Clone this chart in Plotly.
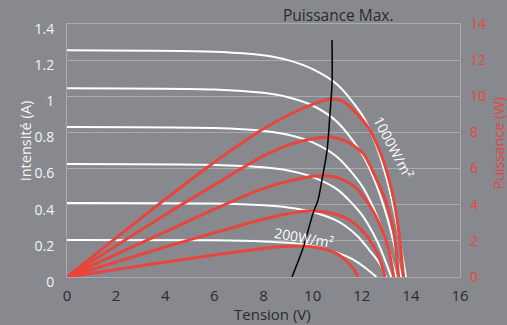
import plotly.graph_objects as go

# ---- data ----
x_ticks = [0, 2, 4, 6, 8, 10, 12, 14, 16]
i_ticks = [0, 0.2, 0.4, 0.6, 0.8, 1.0, 1.2, 1.4]
i_tick_text = ["0", "0.2", "0.4", "0.6", "0.8", "1", "1.2", "1.4"]
p_ticks = [0, 2, 4, 6, 8, 10, 12, 14]

# I-V curves (white), Tension (V) / Intensité (A)
v_w1 = [0, 6, 8, 9, 10, 11, 12, 12.5, 13, 13.4, 13.8]
i_w1 = [1.255, 1.247, 1.227, 1.200, 1.150, 1.065, 0.90, 0.76, 0.55, 0.31, 0]
v_w2 = [0, 6, 8, 9, 10, 11, 12, 12.5, 13, 13.3, 13.6]
i_w2 = [1.045, 1.038, 1.019, 0.995, 0.949, 0.858, 0.683, 0.541, 0.345, 0.188, 0]
v_w3 = [0, 6, 8, 9, 10, 11, 12, 12.5, 13, 13.4]
i_w3 = [0.83, 0.824, 0.808, 0.787, 0.745, 0.664, 0.506, 0.375, 0.196, 0]
v_w4 = [0, 6, 8, 9, 10, 11, 12, 12.5, 12.8, 13.2]
i_w4 = [0.625, 0.620, 0.607, 0.589, 0.553, 0.485, 0.345, 0.232, 0.145, 0]
v_w5 = [0, 6, 8, 9, 10, 11, 11.8, 12.3, 12.7, 13.0]
i_w5 = [0.41, 0.407, 0.397, 0.385, 0.36, 0.31, 0.23, 0.15, 0.08, 0]
v_w6 = [0, 6, 8, 9, 10, 11, 11.6, 12.1, 12.6]
i_w6 = [0.205, 0.203, 0.197, 0.189, 0.172, 0.135, 0.10, 0.055, 0]

# P-V curves (red), Tension (V) / Puissance (W)
v_r1 = [0, 4, 6, 8, 9, 10, 10.7, 11.2, 11.65, 12.3, 12.75, 13.05, 13.3, 13.5, 13.7]
p_r1 = [0, 4.3, 6.35, 8.2, 8.95, 9.55, 9.85, 9.75, 9.25, 8.2, 6.9, 5.7, 4.3, 2.6, 0]
v_r2 = [0, 4, 6, 8, 9, 10, 10.7, 11.3, 12.05, 12.6, 13.0, 13.3, 13.5]
p_r2 = [0, 3.45, 5.1, 6.7, 7.3, 7.65, 7.75, 7.55, 6.85, 5.4, 4.1, 2.5, 0]
v_r3 = [0, 4, 6, 8, 9, 10, 10.5, 11, 11.7, 12.3, 12.8, 13.1, 13.3]
p_r3 = [0, 2.5, 3.75, 4.9, 5.3, 5.58, 5.6, 5.5, 5.0, 4.0, 2.7, 1.5, 0]
v_r4 = [0, 4, 6, 8, 9, 9.8, 10.5, 11.2, 11.8, 12.3, 12.7, 12.95]
p_r4 = [0, 1.66, 2.45, 3.2, 3.5, 3.65, 3.6, 3.35, 2.85, 2.1, 1.1, 0]
v_r5 = [0, 4, 6, 8, 9, 9.5, 10.2, 10.8, 11.1, 11.5, 11.7, 11.85]
p_r5 = [0, 0.83, 1.22, 1.58, 1.7, 1.72, 1.62, 1.42, 1.2, 0.72, 0.38, 0]

# maximum power line (black)
v_max = [9.16, 9.61, 10.02, 10.22, 10.38, 10.59, 10.71, 10.79, 10.79]
p_max = [0, 1.6, 3.54, 4.26, 5.37, 7.03, 9.08, 10.74, 13.12]

# ---- styling ----
BG = "#87898f"
GRID = "#a8aaae"
RED = "#e8453c"
WHITE = "#ffffff"
DARK = "#2b2b2e"
FONT = "Open Sans"

fig = go.Figure()

for v, i in [(v_w1, i_w1), (v_w2, i_w2), (v_w3, i_w3), (v_w4, i_w4), (v_w5, i_w5), (v_w6, i_w6)]:
    fig.add_trace(go.Scatter(x=v, y=i, mode="lines", yaxis="y",
                             line=dict(color=WHITE, width=2, shape="spline", smoothing=0.8),
                             hoverinfo="skip", showlegend=False))

for v, p in [(v_r1, p_r1), (v_r2, p_r2), (v_r3, p_r3), (v_r4, p_r4), (v_r5, p_r5)]:
    fig.add_trace(go.Scatter(x=v, y=p, mode="lines", yaxis="y2",
                             line=dict(color=RED, width=3, shape="spline", smoothing=0.8),
                             hoverinfo="skip", showlegend=False))

fig.add_trace(go.Scatter(x=v_max, y=p_max, mode="lines", yaxis="y2",
                         line=dict(color="#000000", width=1.5, shape="spline", smoothing=0.8),
                         hoverinfo="skip", showlegend=False))

fig.update_layout(
    width=507, height=325,
    margin=dict(l=67, r=47, t=24, b=48, autoexpand=False),
    paper_bgcolor=BG, plot_bgcolor=BG,
    font=dict(family=FONT, size=14),
    xaxis=dict(range=[0, 16], tickvals=x_ticks, showgrid=False, zeroline=False,
               showline=True, linecolor=GRID, linewidth=1, mirror=True,
               ticks="", tickfont=dict(color=DARK, size=15), ticklabelstandoff=5,
               automargin=False),
    yaxis=dict(range=[0, 1.4], tickvals=i_ticks, ticktext=i_tick_text,
               showgrid=True, gridcolor=GRID, gridwidth=1, zeroline=False,
               showline=True, linecolor=GRID, linewidth=1, mirror=True,
               ticks="", tickfont=dict(color="#f4f4f4", size=14),
               ticklabelshift=5, ticklabelstandoff=9, automargin=False),
    yaxis2=dict(range=[0, 14], tickvals=p_ticks, overlaying="y", side="right",
                showgrid=False, zeroline=False, showline=False,
                ticks="", tickfont=dict(color=RED, size=14), ticklabelstandoff=9,
                automargin=False),
)

def label(text, x, y, color, angle=0, xref="paper", yref="paper", size=14):
    fig.add_annotation(text=text, xref=xref, yref=yref, x=x, y=y, textangle=angle,
                       xanchor="center", yanchor="middle", showarrow=False,
                       font=dict(family=FONT, size=size, color=color))

label("Intensité (A)", -0.107, 0.54, "#f4f4f4", -90, size=14.5)
label("Puissance (W)", 1.099, 0.53, RED, -90, size=14.5)
label("Tension (V)", 0.522, -0.146, DARK, size=15)
label("Puissance Max.", 0.69, 1.036, DARK, size=15.5)
label("1000W/m²", 13.31, 7.19, WHITE, 62, "x", "y2")
label("200W/m²", 9.65, 2.16, WHITE, 10, "x", "y2")

fig.write_html("out.html", config={"displayModeBar": False},
               post_script="document.body.style.margin='0';document.body.style.padding='0';")
